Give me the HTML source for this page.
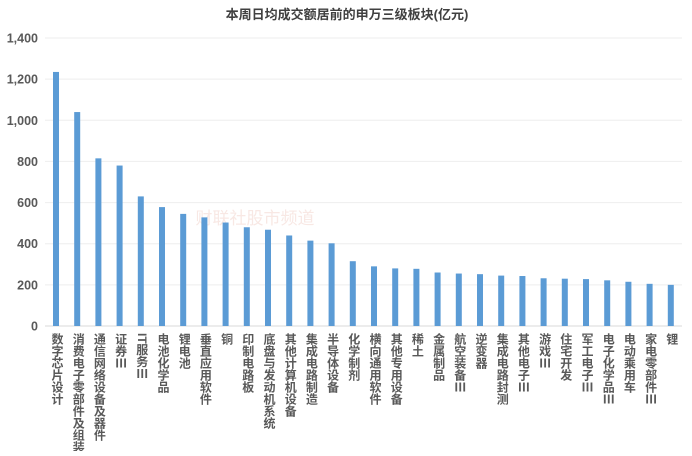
<!DOCTYPE html>
<html><head><meta charset="utf-8"><style>
body{margin:0;background:#fff;width:692px;height:451px;overflow:hidden;font-family:"Liberation Sans","Noto Sans CJK SC",sans-serif}
svg text{font-family:"Liberation Sans","Noto Sans CJK SC",sans-serif}
</style></head><body>
<svg id="chart" width="692" height="451" xmlns="http://www.w3.org/2000/svg">
<text x="347" y="19" text-anchor="middle" font-size="13" font-weight="bold" fill="#404040">本周日均成交额居前的申万三级板块(亿元)</text>
<text x="255" y="224" text-anchor="middle" font-size="17" fill="#f8e8e4">财联社股市频道</text>
<g id="grid"></g><g id="bars"></g><g id="labels"></g>
</svg>
<script>
const categories=["数字芯片设计","消费电子零部件及组装","通信网络设备及器件","证券Ⅲ","IT服务Ⅲ","电池化学品","锂电池","垂直应用软件","铜","印制电路板","底盘与发动机系统","其他计算机设备","集成电路制造","半导体设备","化学制剂","横向通用软件","其他专用设备","稀土","金属制品","航空装备Ⅲ","逆变器","集成电路封测","其他电子Ⅲ","游戏Ⅲ","住宅开发","军工电子Ⅲ","电子化学品Ⅲ","电动乘用车","家电零部件Ⅲ","锂"];
const values=[1235,1040,815,780,630,578,545,528,503,480,468,440,415,402,315,290,280,278,260,255,252,245,243,232,230,228,222,215,205,200];
const yTicks=[0,200,400,600,800,1000,1200,1400];
const NS="http://www.w3.org/2000/svg";
const y0=326,y1=38,yMax=1400,xL=45,xR=682;
const y=v=>y0-(v/yMax)*(y0-y1);
const step=21.2,x=i=>56+i*step;
const g=document.getElementById('grid'),b=document.getElementById('bars'),l=document.getElementById('labels');
function mk(t,a){const e=document.createElementNS(NS,t);for(const k in a)e.setAttribute(k,a[k]);return e;}
yTicks.forEach(t=>{
const ln=mk('line',{x1:xL,x2:xR,y1:y(t),y2:y(t),stroke:t===0?'#d9d9d9':'#eeeeee','stroke-width':1});


g.appendChild(ln);
const tx=mk('text',{x:38,y:y(t)+4.5,'text-anchor':'end','font-size':12.5,'font-weight':'bold',fill:'#595959'});
tx.textContent=t.toLocaleString('en-US');


g.appendChild(tx);
});
values.forEach((v,i)=>{
const r=mk('rect',{x:x(i)-3,y:y(v),width:6,height:y0-y(v),fill:'#5b9bd5'});


b.appendChild(r);
const t=mk('text',{x:x(i)+1,y:333,'font-size':12,'font-weight':'bold',fill:'#595959',style:'writing-mode:vertical-rl;glyph-orientation-vertical:0'});
t.textContent=categories[i];


l.appendChild(t);
});
</script>
</body></html>
